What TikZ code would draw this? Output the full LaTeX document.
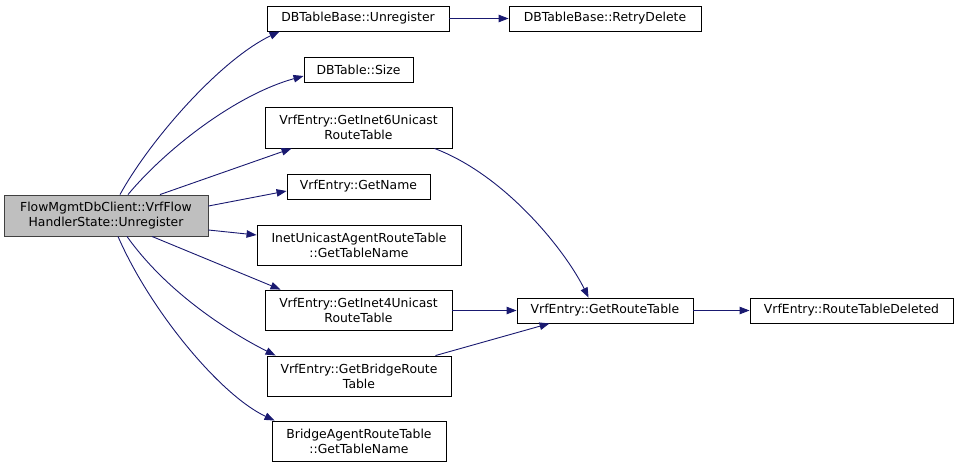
\documentclass[tikz,border=0pt]{standalone}
\usepackage{fontspec}
\setmainfont{DejaVu Sans}
\usetikzlibrary{arrows.meta}
\definecolor{edgeblue}{HTML}{191970}
\definecolor{rootgray}{HTML}{BFBFBF}
\tikzset{
  fbox/.style={draw=black, line width=0.9pt, fill=white, inner sep=0pt, align=center,
    font=\fontsize{12.4}{15}\selectfont},
  conn/.style={draw=edgeblue, line width=0.9pt, -{Triangle[length=10pt,width=7.5pt]}},
}
\begin{document}
\begin{tikzpicture}[x=1pt,y=-1pt]
\useasboundingbox (0,0) rectangle (960,467);
\node[fbox, fill=rootgray, draw=black!75, minimum width=204pt, minimum height=41pt] (root) at (106,215.5) {FlowMgmtDbClient::VrfFlow\\HandlerState::Unregister};
\node[fbox, minimum width=182pt, minimum height=25pt] (dbu) at (358,18.5) {DBTableBase::Unregister};
\node[fbox, minimum width=192pt, minimum height=25pt] (retry) at (605,18.5) {DBTableBase::RetryDelete};
\node[fbox, minimum width=109pt, minimum height=25pt] (size) at (358.5,69.5) {DBTable::Size};
\node[fbox, minimum width=187pt, minimum height=41pt] (inet6) at (358.5,127.5) {VrfEntry::GetInet6Unicast\\RouteTable};
\node[fbox, minimum width=143pt, minimum height=25pt] (getname) at (358.5,186.5) {VrfEntry::GetName};
\node[fbox, minimum width=204pt, minimum height=40pt] (inetuni) at (359,245) {InetUnicastAgentRouteTable\\::GetTableName};
\node[fbox, minimum width=187pt, minimum height=40pt] (inet4) at (358.5,310) {VrfEntry::GetInet4Unicast\\RouteTable};
\node[fbox, minimum width=184pt, minimum height=40pt] (bridge) at (359,376) {VrfEntry::GetBridgeRoute\\Table};
\node[fbox, minimum width=174pt, minimum height=40pt] (bagent) at (359,441) {BridgeAgentRouteTable\\::GetTableName};
\node[fbox, minimum width=176pt, minimum height=25pt] (grt) at (605,310.5) {VrfEntry::GetRouteTable};
\node[fbox, minimum width=203pt, minimum height=25pt] (rtd) at (851.5,310.5) {VrfEntry::RouteTableDeleted};

\draw[conn] ([xshift=14pt]root.north) .. controls (150,140) and (220,60) .. ([xshift=13pt]dbu.south west);
\draw[conn] ([xshift=22pt]root.north) .. controls (165,150) and (235,95) .. ([yshift=-6.5pt]size.west);
\draw[conn] ([xshift=54pt]root.north) -- ([xshift=27pt]inet6.south west);
\draw[conn] ([yshift=9.5pt]root.east) -- ([yshift=-4.5pt]getname.west);
\draw[conn] ([yshift=-14.5pt]root.east) -- ([yshift=10pt]inetuni.west);
\draw[conn] ([xshift=46pt]root.south) -- ([xshift=16pt]inet4.north west);
\draw[conn] ([xshift=21pt]root.south) .. controls (165,290) and (225,330) .. ([xshift=9pt]bridge.north west);
\draw[conn] ([xshift=12pt]root.south) .. controls (150,310) and (220,395) .. ([xshift=3pt]bagent.north west);
\draw[conn] (dbu) -- (retry);
\draw[conn] ([xshift=-18pt]inet6.south east) .. controls (505,175) and (565,250) .. ([xshift=72pt]grt.north west);
\draw[conn] (inet4.east |- grt) -- (grt);
\draw[conn] ([xshift=-16pt]bridge.north east) -- ([xshift=33pt]grt.south west);
\draw[conn] (grt) -- (rtd);
\end{tikzpicture}
\end{document}
